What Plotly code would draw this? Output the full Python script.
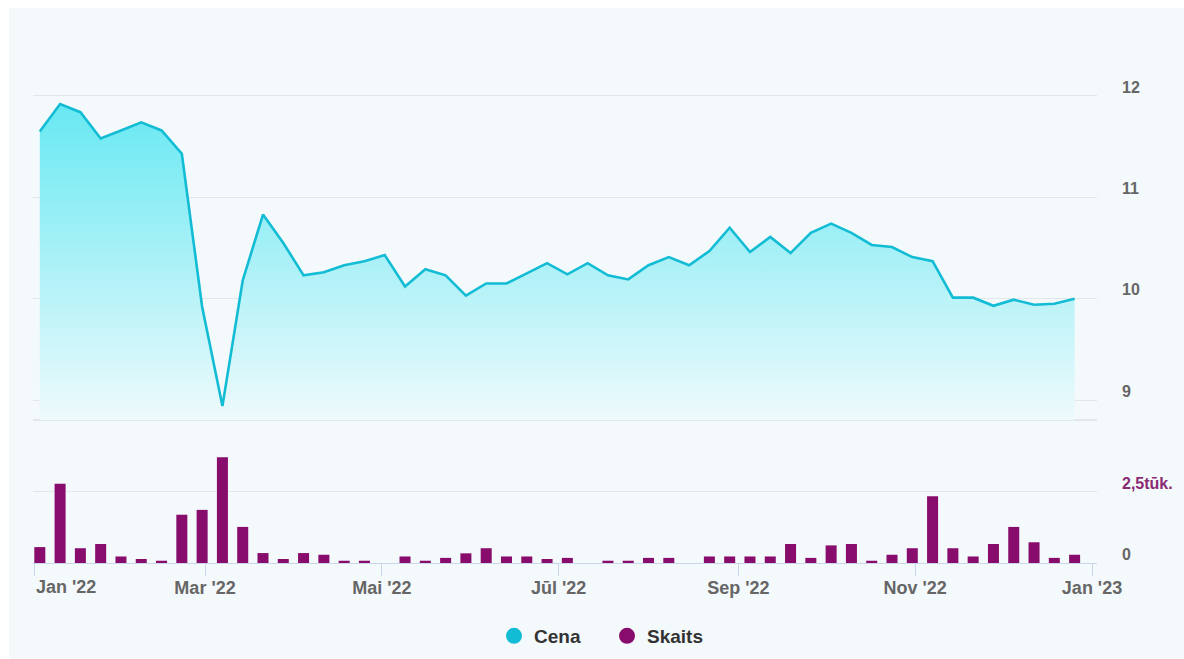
import plotly.graph_objects as go

# ---------------- data ----------------
dates = [
    "2022-01-03", "2022-01-10", "2022-01-17", "2022-01-24", "2022-01-31",
    "2022-02-07", "2022-02-14", "2022-02-21", "2022-02-28",
    "2022-03-07", "2022-03-14", "2022-03-21", "2022-03-28",
    "2022-04-04", "2022-04-11", "2022-04-18", "2022-04-25",
    "2022-05-02", "2022-05-09", "2022-05-16", "2022-05-23", "2022-05-30",
    "2022-06-06", "2022-06-13", "2022-06-20", "2022-06-27",
    "2022-07-04", "2022-07-11", "2022-07-18", "2022-07-25",
    "2022-08-01", "2022-08-08", "2022-08-15", "2022-08-22", "2022-08-29",
    "2022-09-05", "2022-09-12", "2022-09-19", "2022-09-26",
    "2022-10-03", "2022-10-10", "2022-10-17", "2022-10-24", "2022-10-31",
    "2022-11-07", "2022-11-14", "2022-11-21", "2022-11-28",
    "2022-12-05", "2022-12-12", "2022-12-19", "2022-12-26",
]

price = [
    11.65, 11.92, 11.84, 11.58, 11.66, 11.74, 11.66, 11.43, 9.92, 8.94,
    10.18, 10.83, 10.55, 10.23, 10.26, 10.33, 10.37, 10.43, 10.12, 10.29,
    10.23, 10.03, 10.15, 10.15, 10.25, 10.35, 10.24, 10.35, 10.23, 10.19,
    10.33, 10.41, 10.33, 10.47, 10.70, 10.46, 10.61, 10.45, 10.65, 10.74,
    10.65, 10.53, 10.51, 10.41, 10.37, 10.01, 10.01, 9.93, 9.99, 9.94,
    9.95, 10.00,
]

count = [
    0.56, 2.79, 0.52, 0.67, 0.23, 0.14, 0.08, 1.70, 1.87, 3.72,
    1.27, 0.35, 0.14, 0.35, 0.29, 0.08, 0.08, 0.00, 0.23, 0.08,
    0.18, 0.34, 0.52, 0.23, 0.23, 0.14, 0.18, 0.00, 0.08, 0.08,
    0.18, 0.18, 0.00, 0.23, 0.23, 0.23, 0.23, 0.67, 0.18, 0.62,
    0.67, 0.08, 0.29, 0.52, 2.35, 0.52, 0.23, 0.67, 1.27, 0.73,
    0.18, 0.29,
]

x_tick_vals = ["2022-01-01", "2022-03-01", "2022-05-01", "2022-07-01",
               "2022-09-01", "2022-11-01", "2023-01-01"]
x_tick_text = ["Jan '22", "Mar '22", "Mai '22", "Jūl '22",
               "Sep '22", "Nov '22", "Jan '23"]

price_ticks = [9, 10, 11, 12]
price_tick_text = ["9", "10", "11", "12"]
count_ticks = [0, 2.5]
count_tick_text = ["0", "2,5tūk."]

series_names = ["Cena", "Skaits"]

# ---------------- styles ----------------
LINE_C = "#12bcd4"
BAR_C = "#870c6c"
GRID_C = "#e3e6ea"
AXIS_C = "#ccd6eb"
BG_C = "#f4f9fc"
FONT = "Liberation Sans, Arial, sans-serif"

W, H = 1184, 659
ML, MR, MT, MB = 33, 87, 30, 96
PW, PH = W - ML - MR, H - MT - MB

def py(pix):  # pixel y -> paper fraction
    return (H - MB - pix) / PH

def px(pix):
    return (pix - ML) / PW

fig = go.Figure()

fig.add_trace(go.Scatter(
    x=dates, y=price, mode="lines", name=series_names[0],
    line=dict(color=LINE_C, width=2.6),
    fill="tozeroy",
    fillgradient=dict(type="vertical",
                      colorscale=[[0, "rgb(238,250,252)"], [1, "rgb(100,232,242)"]],
                      start=8.8, stop=12.0),
    xaxis="x", yaxis="y", showlegend=False, hoverinfo="skip",
))

fig.add_trace(go.Bar(
    x=dates, y=count, name=series_names[1],
    marker=dict(color=BAR_C, line=dict(width=0)),
    width=3.8 * 86400000,
    xaxis="x", yaxis="y2", showlegend=False, hoverinfo="skip",
))

# legend entries as circles
fig.add_trace(go.Scatter(x=[None], y=[None], mode="markers", name=series_names[0],
                         marker=dict(size=20, color=LINE_C, symbol="circle")))
fig.add_trace(go.Scatter(x=[None], y=[None], mode="markers", name=series_names[1],
                         marker=dict(size=20, color=BAR_C, symbol="circle")))

TICKFONT_X = dict(size=18, color="#666666", family=FONT, weight=700)
TICKFONT_Y = dict(size=16, color="#666666", family=FONT, weight=700)

fig.update_layout(
    width=W, height=H,
    margin=dict(l=ML, r=MR, t=MT, b=MB, autoexpand=False),
    paper_bgcolor="white",
    plot_bgcolor="rgba(0,0,0,0)",
    font=dict(family=FONT, color="#666666"),
    showlegend=True,
    legend=dict(orientation="h", xref="container", yref="container",
                x=607 / W, xanchor="center", y=(H - 636) / H, yanchor="middle",
                font=dict(size=19, color="#333333", family=FONT, weight=700),
                bgcolor="rgba(0,0,0,0)", itemsizing="trace", entrywidth=68),
    xaxis=dict(
        type="date", domain=[0, 1], anchor="y2",
        range=["2021-12-31 15:40", "2023-01-02 17:20"],
        tickvals=x_tick_vals, ticktext=[""] + x_tick_text[1:],
        showgrid=False, zeroline=False,
        showline=True, linecolor=AXIS_C, linewidth=1,
        ticks="outside", ticklen=12, tickcolor=AXIS_C, tickwidth=1,
        ticklabelstandoff=-4,
        tickfont=TICKFONT_X,
    ),
    yaxis=dict(
        domain=[py(420), 1], anchor="x", side="right",
        range=[8.803, 12.651],
        tickvals=price_ticks, ticktext=price_tick_text,
        showgrid=True, gridcolor=GRID_C, gridwidth=1, zeroline=False,
        showline=False, ticks="",
        ticklabelstandoff=24, ticklabelshift=-9,
        tickfont=TICKFONT_Y,
    ),
    yaxis2=dict(
        domain=[0, py(440)], anchor="x", side="right",
        range=[0, 4.33],
        tickvals=count_ticks,
        ticktext=[count_tick_text[0],
                  "<span style='color:#8a2a75'>" + count_tick_text[1] + "</span>"],
        showgrid=True, gridcolor=GRID_C, gridwidth=1, zeroline=False,
        showline=False, ticks="",
        ticklabelstandoff=24, ticklabelshift=-9,
        tickfont=TICKFONT_Y,
    ),
    shapes=[
        dict(type="rect", xref="paper", yref="paper",
             x0=px(9), x1=px(1184), y0=py(659), y1=py(8),
             fillcolor=BG_C, line=dict(width=0), layer="below"),
        dict(type="line", xref="paper", yref="paper",
             x0=0, x1=1, y0=py(420), y1=py(420),
             line=dict(color="#dfe2e6", width=1.5), layer="below"),
    ],
    annotations=[
        dict(text=x_tick_text[0], x=x_tick_vals[0], xref="x", xanchor="left",
             y=py(587), yref="paper", yanchor="middle", showarrow=False,
             font=TICKFONT_X),
    ],
)

fig.write_html("out.html", config={"displayModeBar": False},
               post_script="document.body.style.margin='0';")
